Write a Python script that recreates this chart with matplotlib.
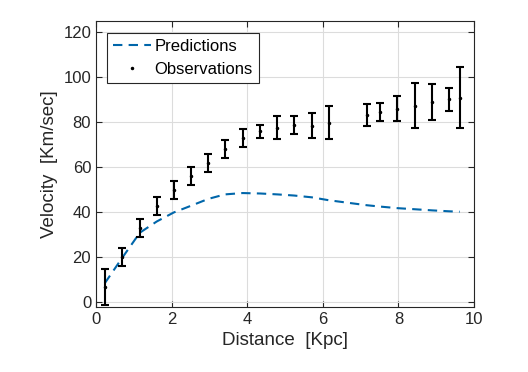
import numpy as np
import matplotlib.pyplot as plt
from matplotlib.lines import Line2D

plt.rcParams['font.family'] = ['Liberation Sans', 'DejaVu Sans']

# distances of the observations [Kpc]
distance = [0.23, 0.70, 1.16, 1.61, 2.06, 2.52, 2.97, 3.41, 3.88, 4.35, 4.80,
            5.24, 5.71, 6.16, 7.16, 7.51, 7.97, 8.44, 8.90, 9.34, 9.62]
# observed velocities and their errors [Km/sec]
velocity = [7, 20, 33, 43, 50, 56, 62, 68, 73, 76, 77.6,
            78.7, 78.5, 79.9, 83.2, 84.6, 86, 87.3, 89, 90.2, 91]
vel_err = [8, 4, 4, 4, 4, 4, 4, 4, 4, 2.8, 5.2,
           4, 5.5, 7.2, 5, 4, 5.5, 10, 8, 5.2, 13.6]
# model predictions at the same distances
predicted = [8.5, 20, 31, 36, 40, 43, 46, 48, 48.6, 48.4, 48,
             47.5, 46.7, 45.4, 43.2, 42.6, 41.9, 41.4, 40.9, 40.5, 40.3]

blue = '#0066aa'

fig = plt.figure(figsize=(5.28, 3.72), dpi=100)
ax = fig.add_axes([96/528, 1 - 307/372, 378/528, 286/372])

ax.plot(distance, predicted, color=blue, lw=1.5, dashes=(4.5, 3))
ax.errorbar(distance, velocity, yerr=vel_err, fmt='.', color='black',
            ms=3, elinewidth=1.5, capsize=3, capthick=1.5)

ax.set_xlim(0, 10)
ax.set_ylim(-2, 125)
ax.set_xticks(np.arange(0, 11, 2))
ax.set_yticks(np.arange(0, 121, 20))
ax.grid(True, color='#dcdcdc', lw=0.8)
ax.set_axisbelow(True)
ax.tick_params(direction='in', top=True, right=True, labelsize=12,
               colors='#262626', length=4)
for s in ax.spines.values():
    s.set_color('#262626')
    s.set_linewidth(0.8)

ax.set_xlabel('Distance  [Kpc]', fontsize=13.5, color='#262626')
ax.set_ylabel('Velocity  [Km/sec]', fontsize=13.5, color='#262626')

handles = [Line2D([], [], color=blue, lw=1.5, dashes=(4.5, 3)),
           Line2D([], [], ls='none', marker='.', ms=3, color='black')]
leg = ax.legend(handles, ['Predictions', 'Observations'],
                loc='upper left', bbox_to_anchor=(0.029, 0.958),
                borderaxespad=0, fontsize=12, fancybox=False,
                edgecolor='#262626', framealpha=1, handlelength=2.3,
                borderpad=0.35, labelspacing=0.5, handletextpad=0.2)
leg.get_frame().set_linewidth(0.8)

fig.savefig('out.png', dpi=100)
